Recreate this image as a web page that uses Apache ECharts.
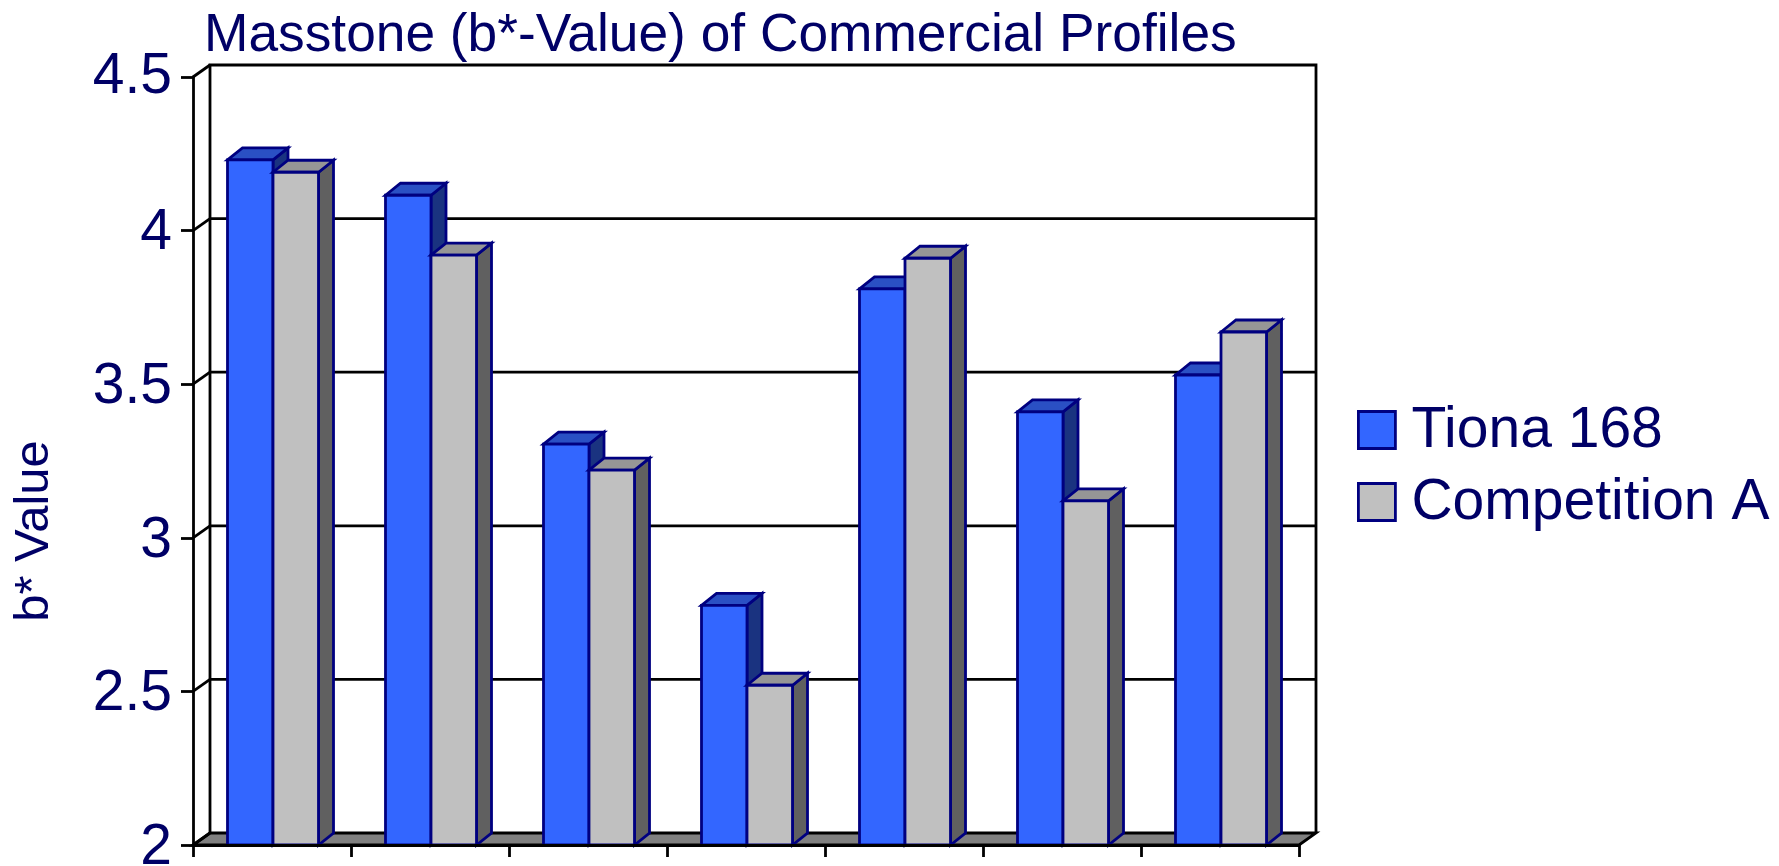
<!DOCTYPE html>
<html>
<head>
<meta charset="utf-8">
<style>html,body{margin:0;padding:0;background:#fff}#c{width:1779px;height:866px}</style>
<script src="https://cdn.jsdelivr.net/npm/echarts@6/dist/echarts.min.js"></script>
</head>
<body>
<div id="c"></div>
<script>
const categories = ['1','2','3','4','5','6','7'];
const seriesNames = ['Tiona 168','Competition A'];
const tiona = [4.23,4.115,3.305,2.78,3.81,3.41,3.53];
const competition = [4.19,3.92,3.22,2.52,3.91,3.12,3.67];
const yTicks = [2,2.5,3,3.5,4,4.5];
const titleText = 'Masstone (b*-Value) of Commercial Profiles';
const yName = 'b* Value';

const NAVY = '#000066', BORDER = '#000080';
const WALL = {dx:17, dy:-12};
const BAR = {dx:15, dy:-12, frac:0.288, shift:1};
const faces = [
  {front:'#3366FF', top:'#2A50C4', side:'#1A3380'},
  {front:'#C0C0C0', top:'#969696', side:'#606060'}
];
const LW = 2.8;
const blk = {stroke:'#000', lineWidth:LW, fill:null};
const FONT = '"Liberation Sans", Arial, sans-serif';

function frame(params, api){
  const c = params.coordSys;
  const x0=c.x, x1=c.x+c.width, y0=c.y, y1=c.y+c.height, dx=WALL.dx, dy=WALL.dy;
  return {type:'group', silent:true, children:[
    {type:'polygon', shape:{points:[[x0,y1],[x1,y1],[x1+dx,y1+dy],[x0+dx,y1+dy]]}, style:{fill:'#808080',stroke:'#000',lineWidth:LW}},
    {type:'polyline', shape:{points:[[x0+dx,y1+dy],[x0+dx,y0+dy],[x1+dx,y0+dy],[x1+dx,y1+dy]]}, style:blk}
  ]};
}
function wallLine(params, api){
  const c = params.coordSys;
  const y = api.coord([0, api.value(1)])[1], dx=WALL.dx, dy=WALL.dy;
  const kids = [{type:'line', shape:{x1:c.x,y1:y,x2:c.x+dx,y2:y+dy}, style:blk}];
  if (api.value(1) > yTicks[0] && api.value(1) < yTicks[yTicks.length-1])
    kids.push({type:'line', shape:{x1:c.x+dx,y1:y+dy,x2:c.x+c.width+dx,y2:y+dy}, style:blk});
  return {type:'group', silent:true, children:kids};
}
function barItem(si){
  return function(params, api){
    const p = api.coord([api.value(0), api.value(1)]);
    const base = api.coord([api.value(0), yTicks[0]]);
    const w = api.size([1,0])[0]*BAR.frac;
    const xl = p[0] + BAR.shift + (si===0 ? -w : 0), xr = xl + w, yt = p[1], yb = base[1];
    const dx=BAR.dx, dy=BAR.dy, f=faces[si];
    const st = fill => ({fill:fill, stroke:BORDER, lineWidth:LW, lineJoin:'miter'});
    return {type:'group', children:[
      {type:'polygon', shape:{points:[[xr,yt],[xr+dx,yt+dy],[xr+dx,yb+dy],[xr,yb]]}, style:st(f.side)},
      {type:'polygon', shape:{points:[[xl,yt],[xl+dx,yt+dy],[xr+dx,yt+dy],[xr,yt]]}, style:st(f.top)},
      {type:'rect', shape:{x:xl,y:yt,width:w,height:yb-yt}, style:st(f.front)}
    ]};
  };
}
function toData(arr){ return arr.map((v,i)=>[i,v]); }

const chart = echarts.init(document.getElementById('c'), null, {renderer:'canvas'});
chart.setOption({
  animation:false,
  backgroundColor:'#fff',
  textStyle:{fontFamily:FONT},
  title:{text:titleText, left:204, top:10, padding:0,
    textStyle:{color:NAVY, fontSize:53.3, fontWeight:'normal', fontFamily:FONT}},
  legend:{
    orient:'vertical', left:1357, top:400, padding:0, itemWidth:37, itemHeight:37, itemGap:12,
    icon:'rect', selectedMode:false,
    formatter:'{t|{name}}',
    textStyle:{color:NAVY, fontSize:57, fontFamily:FONT, rich:{t:{color:NAVY, fontSize:57, fontFamily:FONT, lineHeight:37, padding:[3,0,0,11]}}},
    data:[
      {name:seriesNames[0], itemStyle:{color:faces[0].front, borderColor:BORDER, borderWidth:LW}},
      {name:seriesNames[1], itemStyle:{color:faces[1].front, borderColor:BORDER, borderWidth:LW}}
    ]
  },
  grid:{left:193, top:77, width:1106, height:768, containLabel:false, outerBoundsMode:'none'},
  xAxis:{type:'category', data:categories, z:10,
    axisLine:{lineStyle:{color:'#000',width:LW}},
    axisTick:{show:true, alignWithLabel:false, length:12, lineStyle:{color:'#000',width:LW}},
    axisLabel:{show:false}, splitLine:{show:false}},
  yAxis:{type:'value', min:2, max:4.5, interval:0.5,
    axisLine:{show:true, lineStyle:{color:'#000',width:LW}},
    axisTick:{show:true, length:12, lineStyle:{color:'#000',width:LW}},
    axisLabel:{color:NAVY, fontSize:57, margin:21, fontFamily:FONT,
      formatter:v => v === yTicks[yTicks.length-1] ? '{top|'+v+'}' : '{low|'+v+'}',
      rich:{
        top:{color:NAVY, fontSize:57, fontFamily:FONT},
        low:{color:NAVY, fontSize:57, fontFamily:FONT, padding:[6,0,0,0]}
      }},
    splitLine:{show:false}},
  graphic:[{type:'text', x:34, y:531, rotation:Math.PI/2, silent:true,
    style:{text:yName, fill:NAVY, font:'49px '+FONT, textAlign:'center', textVerticalAlign:'middle'}}],
  series:[
    {type:'custom', name:'floor', z:1, silent:true, renderItem:frame, data:[[0,2]]},
    {type:'custom', name:'walls', z:1, silent:true, renderItem:wallLine, data:yTicks.map(t=>[0,t])},
    {type:'custom', name:seriesNames[0], z:3, renderItem:barItem(0), data:toData(tiona), itemStyle:{color:faces[0].front}},
    {type:'custom', name:seriesNames[1], z:4, renderItem:barItem(1), data:toData(competition), itemStyle:{color:faces[1].front}}
  ]
});
</script>
</body>
</html>
